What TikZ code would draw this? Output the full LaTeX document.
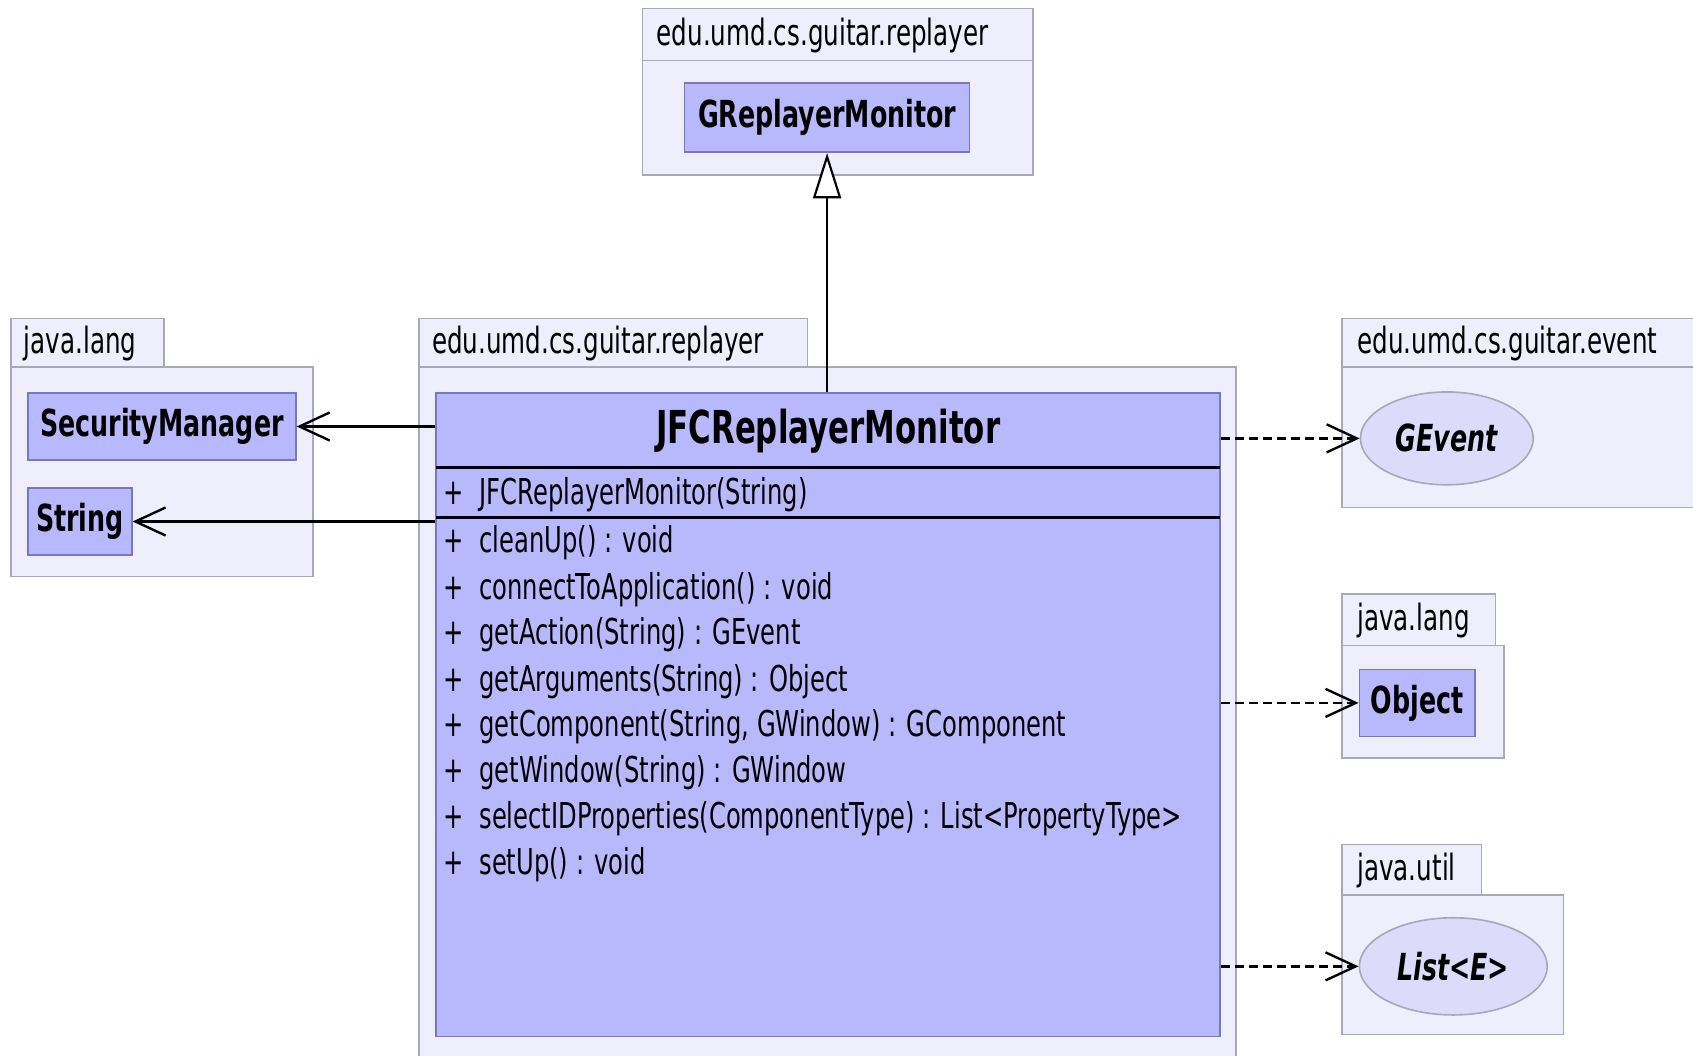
\documentclass[tikz,border=0pt]{standalone}
\usepackage{fontspec}
\setmainfont{DejaVu Sans}[FakeStretch=0.68]
\usetikzlibrary{arrows.meta,shapes.geometric}
\definecolor{pkgfill}{RGB}{238,238,252}
\definecolor{pkgline}{RGB}{168,168,184}
\definecolor{clsfill}{RGB}{184,184,252}
\definecolor{clsline}{RGB}{120,120,190}
\definecolor{ifcfill}{RGB}{220,220,250}

\begin{document}
\begin{tikzpicture}[x=1pt,y=-1pt]
\tikzstyle{pkg}=[draw=pkgline,fill=pkgfill,line width=1.5pt];
\tikzstyle{pkgname}=[anchor=west,inner sep=0pt,font=\fontsize{33.5}{36}\selectfont];
\tikzstyle{cls}=[draw=clsline,fill=clsfill,line width=1.5pt,inner sep=0pt,font=\fontsize{34.5}{38}\selectfont\bfseries];
\tikzstyle{ifc}=[ellipse,draw=pkgline,fill=ifcfill,line width=1.5pt,inner sep=0pt,font=\fontsize{34.5}{38}\selectfont\bfseries\itshape];
\tikzstyle{member}=[anchor=west,inner sep=0pt,font=\fontsize{33}{36}\selectfont];
\tikzstyle{uses}=[-{Straight Barb[length=28pt,width=26pt]},line width=2.2pt];
\tikzstyle{dep}=[uses,dash pattern=on 8pt off 5pt];
\tikzstyle{extends}=[-{Triangle[open,length=42pt,width=26pt,fill=white]},line width=2pt];
\useasboundingbox (0,0) rectangle (1568,978);

% packages
\draw [pkg] (595,8) rectangle (957,56);
\draw [pkg] (595,56) rectangle (957,162);
\node [pkgname] (ptop) at (608,33) {edu.umd.cs.guitar.replayer};
\draw [pkg] (10,295) rectangle (152,340);
\draw [pkg] (10,340) rectangle (290,534);
\node [pkgname] (plang) at (22,318) {java.lang};
\draw [pkg] (388,295) rectangle (748,340);
\draw [pkg] (388,340) rectangle (1145,990);
\node [pkgname] (pmain) at (400,318) {edu.umd.cs.guitar.replayer};
\draw [pkg] (1243,295) rectangle (1580,340);
\draw [pkg] (1243,340) rectangle (1580,470);
\node [pkgname] (pevent) at (1257,318) {edu.umd.cs.guitar.event};
\draw [pkg] (1243,550) rectangle (1385,598);
\draw [pkg] (1243,598) rectangle (1393,702);
\node [pkgname] (plang2) at (1257,575) {java.lang};
\draw [pkg] (1243,782) rectangle (1372,829);
\draw [pkg] (1243,829) rectangle (1448,958);
\node [pkgname] (putil) at (1257,806) {java.util};

% classes
\node [cls,minimum width=264pt,minimum height=64pt] (grm) at (766,109) {GReplayerMonitor};
\node [cls,minimum width=248pt,minimum height=62pt] (secmgr) at (150,395) {SecurityManager};
\node [cls,minimum width=96pt,minimum height=62pt] (str) at (74,483) {String};
\node [cls,minimum width=107pt,minimum height=62pt] (obj) at (1312.5,651) {Object};
\node [ifc,minimum width=160pt,minimum height=86pt] (gev) at (1340,406) {GEvent};
\node [ifc,minimum width=174pt,minimum height=90pt] (lst) at (1346,895) {List<E>};

\node [cls,minimum width=726pt,minimum height=596pt] (jfc) at (767,662) {};
\node [font=\fontsize{42}{46}\selectfont\bfseries] (jname) at (767,399) {JFCReplayerMonitor};
\draw [line width=2.5pt] (404,433) -- (1130,433);
\draw [line width=2.5pt] (404,479) -- (1130,479);
\node [member] (ctor) at (411,458) {+\hspace{14pt}JFCReplayerMonitor(String)};
\node [member] (m1) at (411,503) {+\hspace{14pt}cleanUp() : void};
\node [member] (m2) at (411,546) {+\hspace{14pt}connectToApplication() : void};
\node [member] (m3) at (411,588) {+\hspace{14pt}getAction(String) : GEvent};
\node [member] (m4) at (411,631) {+\hspace{14pt}getArguments(String) : Object};
\node [member] (m5) at (411,673) {+\hspace{14pt}getComponent(String, GWindow) : GComponent};
\node [member] (m6) at (411,716) {+\hspace{14pt}getWindow(String) : GWindow};
\node [member] (m7) at (411,758) {+\hspace{14pt}selectIDProperties(ComponentType) : List<PropertyType>};
\node [member] (m8) at (411,801) {+\hspace{14pt}setUp() : void};

% relations
\draw [extends] (jfc.north -| grm) -- (grm.south);
\draw [uses] (jfc.west |- secmgr) -- (secmgr);
\draw [uses] (jfc.west |- str) -- (str);
\draw [dep] (jfc.east |- gev) -- (gev);
\draw [dep] (jfc.east |- obj) -- (obj);
\draw [dep] (jfc.east |- lst) -- (lst);
\end{tikzpicture}
\end{document}
